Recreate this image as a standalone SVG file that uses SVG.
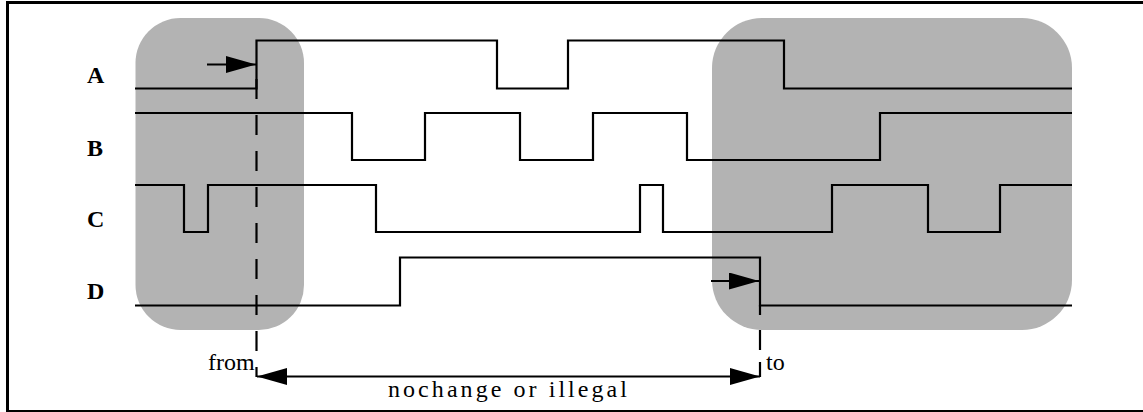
<svg xmlns="http://www.w3.org/2000/svg" width="1143" height="412" viewBox="0 0 1143 412">
<defs>
<style>
.sig{fill:none;stroke:#000;stroke-width:2.2;stroke-linejoin:miter}
.zone{fill:#b3b3b3;stroke:none}
.lbl{font-family:"Liberation Serif",serif;font-weight:bold;font-size:24px;fill:#000}
.txt{font-family:"Liberation Serif",serif;font-size:24px;fill:#000}
.ln{fill:none;stroke:#000;stroke-width:2.2}
</style>
<marker id="ah" viewBox="0 0 30 17" refX="30" refY="8.5" markerWidth="30" markerHeight="17" markerUnits="userSpaceOnUse" orient="auto-start-reverse">
<path d="M0,0 L30,8.5 L0,17 Z" fill="#000"/>
</marker>
</defs>
<rect x="7.5" y="2.5" width="1137" height="409" fill="#fff" stroke="#000" stroke-width="3"/>
<g id="zone-left"><rect class="zone" x="135.5" y="18" width="168.5" height="312" rx="45" ry="45"/></g>
<g id="zone-right"><rect class="zone" x="712" y="18" width="360" height="312" rx="50" ry="50"/></g>
<g id="labels">
<text class="lbl" x="87" y="83">A</text>
<text class="lbl" x="87" y="156">B</text>
<text class="lbl" x="87" y="227">C</text>
<text class="lbl" x="87" y="299">D</text>
</g>
<g id="signal-A"><path class="sig" d="M135,88.5 H256.5 V40.5 H497 V88.5 H568 V40.5 H784 V88.5 H1072"/></g>
<g id="signal-B"><path class="sig" d="M135,113 H352 V160 H425 V113 H520 V160 H593 V113 H687 V160 H880 V113 H1072"/></g>
<g id="signal-C"><path class="sig" d="M135,185 H184 V232 H208 V185 H376 V232 H640 V185 H663 V232 H832 V185 H928 V232 H1000 V185 H1072"/></g>
<g id="signal-D"><path class="sig" d="M135,305.5 H400 V257.5 H760 V305.5 H1072"/></g>
<g id="connectors">
<path class="ln" d="M256.5,79 V377" stroke-dasharray="20 16"/>
<path class="ln" d="M760,305 V315 M760,330 V350 M760,362 V377"/>
<path class="ln" d="M207,64.5 H256" marker-end="url(#ah)"/>
<path class="ln" d="M711,281 H759" marker-end="url(#ah)"/>
<path class="ln" d="M257,376.5 H760" marker-start="url(#ah)" marker-end="url(#ah)"/>
</g>
<g id="annotations">
<text class="txt" x="208" y="370">from</text>
<text class="txt" x="766" y="370">to</text>
<text class="txt" x="388" y="397" font-size="26" textLength="239" lengthAdjust="spacing">nochange or illegal</text>
</g>
</svg>
